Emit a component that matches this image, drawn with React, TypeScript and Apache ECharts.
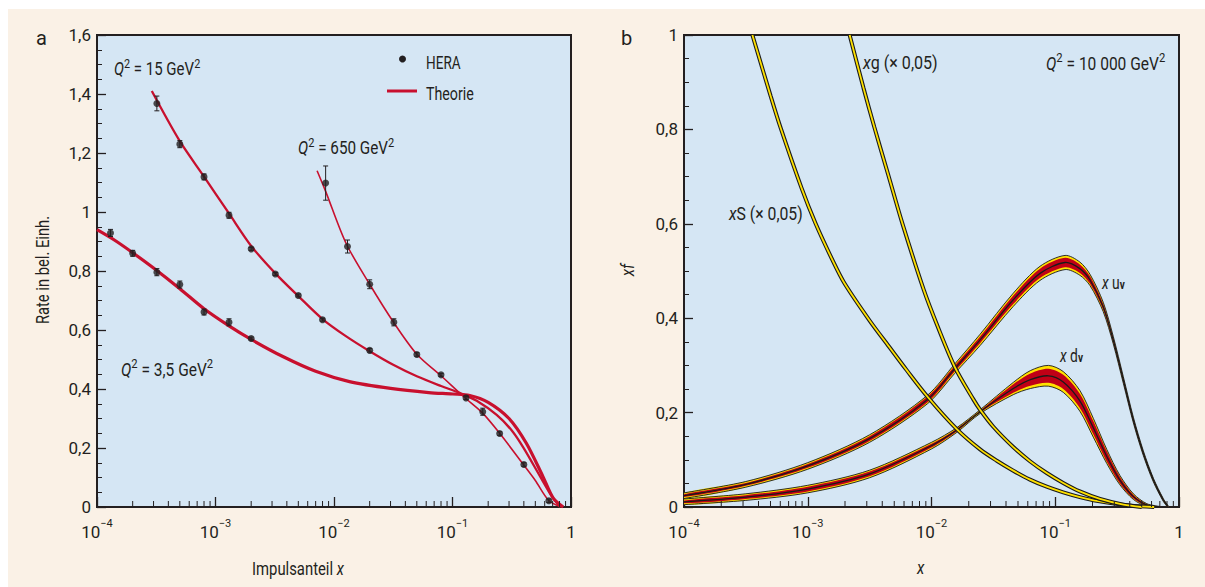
import React, { useEffect, useRef } from "react";
import * as echarts from "echarts";

// ---------- Panel a: HERA data ----------
const HERA35_X = [1.3e-4, 2e-4, 3.2e-4, 5e-4, 8e-4, 1.3e-3, 2e-3];
const HERA35_Y = [0.929, 0.86, 0.796, 0.754, 0.661, 0.626, 0.571];
const HERA35_E = [0.012, 0.01, 0.012, 0.012, 0.01, 0.012, 0.005];

const HERA15_X = [3.2e-4, 5e-4, 8e-4, 1.3e-3, 2e-3, 3.2e-3, 5e-3, 8e-3, 2e-2];
const HERA15_Y = [1.368, 1.23, 1.119, 0.989, 0.875, 0.79, 0.717, 0.635, 0.531];
const HERA15_E = [0.025, 0.012, 0.01, 0.01, 0.005, 0.005, 0.005, 0.005, 0.006];

const HERA650_X = [8.5e-3, 0.013, 0.02, 0.032, 0.05, 0.08, 0.13, 0.18, 0.25, 0.4, 0.65];
const HERA650_Y = [1.098, 0.883, 0.755, 0.626, 0.517, 0.448, 0.37, 0.323, 0.249, 0.144, 0.021];
const HERA650_E = [0.058, 0.022, 0.015, 0.012, 0.006, 0.005, 0.006, 0.012, 0.006, 0.006, 0.006];

// ---------- Panel a: theory curves ----------
const TH35_X = [1e-4, 1.4e-4, 2e-4, 3e-4, 5e-4, 8e-4, 1.3e-3, 2e-3, 3.7e-3, 7e-3, 0.0135, 0.03, 0.063, 0.1, 0.14, 0.2, 0.3, 0.42, 0.58, 0.71, 0.86];
const TH35_Y = [0.94, 0.905, 0.862, 0.81, 0.74, 0.672, 0.614, 0.568, 0.51, 0.46, 0.425, 0.402, 0.388, 0.383, 0.378, 0.355, 0.3, 0.216, 0.103, 0.029, 0];

const TH15_X = [2.9e-4, 5e-4, 8e-4, 1.3e-3, 2e-3, 3.2e-3, 5e-3, 8e-3, 0.0125, 0.02, 0.0316, 0.05, 0.08, 0.116, 0.16, 0.236, 0.32, 0.4, 0.55, 0.68, 0.81];
const TH15_Y = [1.41, 1.24, 1.12, 0.995, 0.885, 0.792, 0.715, 0.637, 0.58, 0.528, 0.482, 0.443, 0.41, 0.386, 0.36, 0.312, 0.257, 0.199, 0.103, 0.04, 0];

const TH650_X = [7.2e-3, 8.5e-3, 0.0126, 0.02, 0.0316, 0.05, 0.08, 0.126, 0.178, 0.25, 0.4, 0.5, 0.65, 0.83];
const TH650_Y = [1.14, 1.07, 0.895, 0.755, 0.628, 0.518, 0.445, 0.372, 0.32, 0.25, 0.142, 0.09, 0.022, 0];

// ---------- Panel b: parton distributions ----------
const XS_X = [3.57e-4, 5.01e-4, 6.04e-4, 8.9e-4, 1.155e-3, 1.585e-3, 1.98e-3, 3.16e-3, 4.53e-3, 6.3e-3, 9.4e-3, 0.016, 0.0247, 0.0337, 0.0458, 0.0625, 0.0853, 0.116, 0.158, 0.216, 0.4, 0.63];
const XS_Y = [1.0, 0.871, 0.803, 0.676, 0.601, 0.523, 0.474, 0.395, 0.34, 0.29, 0.232, 0.165, 0.122, 0.098, 0.077, 0.058, 0.043, 0.031, 0.021, 0.013, 0.003, 0];

const XG_X = [2.18e-3, 2.82e-3, 3.45e-3, 4.47e-3, 5.83e-3, 8.66e-3, 0.0112, 0.0154, 0.0218, 0.0247, 0.0316, 0.0458, 0.0625, 0.0853, 0.116, 0.158, 0.23, 0.355, 0.5];
const XG_Y = [1.0, 0.888, 0.805, 0.704, 0.6, 0.46, 0.383, 0.297, 0.228, 0.206, 0.17, 0.127, 0.097, 0.072, 0.051, 0.033, 0.017, 0.005, 0];

const UV_X = [1e-4, 3.16e-4, 1e-3, 3.16e-3, 9.3e-3, 0.0154, 0.0247, 0.0458, 0.0753, 0.12, 0.158, 0.191, 0.244, 0.294, 0.355, 0.428, 0.515, 0.621, 0.746, 0.82];
const UV_Y = [0.024, 0.048, 0.087, 0.145, 0.228, 0.293, 0.354, 0.439, 0.495, 0.518, 0.505, 0.481, 0.424, 0.354, 0.269, 0.184, 0.114, 0.057, 0.015, 0];
const UV_OUT = [0.006, 0.006, 0.007, 0.008, 0.009, 0.01, 0.012, 0.014, 0.015, 0.015, 0.014, 0.012, 0.01, 0.008, 0.007, 0.006, 0.005, 0.004, 0.003, 0.002];
const UV_IN = [0.003, 0.003, 0.004, 0.005, 0.006, 0.006, 0.007, 0.009, 0.01, 0.01, 0.009, 0.008, 0.006, 0.005, 0.004, 0.004, 0.003, 0.002, 0.002, 0.001];

const DV_X = [1e-4, 3.16e-4, 1e-3, 3.16e-3, 0.01, 0.016, 0.0247, 0.0458, 0.063, 0.088, 0.116, 0.158, 0.203, 0.261, 0.333, 0.428, 0.55, 0.708];
const DV_Y = [0.011, 0.021, 0.038, 0.07, 0.13, 0.163, 0.202, 0.251, 0.27, 0.278, 0.265, 0.225, 0.168, 0.107, 0.057, 0.022, 0.004, 0];
const DV_OUT = [0.006, 0.007, 0.008, 0.008, 0.007, 0.005, 0.004, 0.013, 0.019, 0.022, 0.022, 0.022, 0.02, 0.015, 0.01, 0.006, 0.003, 0.001];
const DV_IN = [0.003, 0.004, 0.005, 0.005, 0.004, 0.003, 0.002, 0.009, 0.013, 0.015, 0.015, 0.015, 0.014, 0.011, 0.007, 0.004, 0.002, 0.001];

// ---------- styling ----------
const FONT = 'Roboto,"Noto Sans","Liberation Sans",sans-serif';
const INK = "#231f20";
const RED = "#c8102e";
const BAND_RED = "#c00016";
const YELLOW = "#ffe100";
const CREAM = "#faf1e6";
const PLOT_BG = "#d5e6f4";
const FS = 18;

const MINOR_TICKS: number[] = [];
for (let e = -4; e < 0; e++) for (let m = 2; m <= 9; m++) MINOR_TICKS.push(m * Math.pow(10, e));

const zip = (xs: number[], ys: number[]) => xs.map((x, i) => [x, ys[i]]);

function errSeries(xs: number[], ys: number[], es: number[]) {
  return {
    type: "custom",
    xAxisIndex: 0,
    yAxisIndex: 0,
    z: 4,
    silent: true,
    data: xs.map((x, i) => [x, ys[i], es[i]]),
    encode: { x: 0, y: 1 },
    renderItem: (_p: any, api: any) => {
      const x = api.value(0), y = api.value(1), e = api.value(2);
      const lo = api.coord([x, y - e]);
      const hi = api.coord([x, y + e]);
      const w = 2.5;
      const st = { stroke: INK, lineWidth: 1 };
      return {
        type: "group",
        children: [
          { type: "line", shape: { x1: lo[0], y1: lo[1], x2: hi[0], y2: hi[1] }, style: st },
          { type: "line", shape: { x1: lo[0] - w, y1: lo[1], x2: lo[0] + w, y2: lo[1] }, style: st },
          { type: "line", shape: { x1: hi[0] - w, y1: hi[1], x2: hi[0] + w, y2: hi[1] }, style: st },
        ],
      };
    },
  };
}

function pointSeries(xs: number[], ys: number[]) {
  return {
    type: "scatter",
    xAxisIndex: 0,
    yAxisIndex: 0,
    z: 5,
    symbol: "circle",
    symbolSize: 7,
    itemStyle: { color: INK },
    data: zip(xs, ys),
  };
}

function theory(xs: number[], ys: number[], width: number) {
  return {
    type: "line",
    xAxisIndex: 0,
    yAxisIndex: 0,
    z: 3,
    smooth: 0.3,
    symbol: "none",
    lineStyle: { color: RED, width },
    data: zip(xs, ys),
  };
}

function minorTickSeries(axis: number) {
  return {
    type: "custom",
    xAxisIndex: axis,
    yAxisIndex: axis,
    z: 10,
    silent: true,
    clip: false,
    data: MINOR_TICKS.map((x) => [x, 0]),
    encode: { x: 0, y: 1 },
    renderItem: (_p: any, api: any) => {
      const p = api.coord([api.value(0), 0]);
      return {
        type: "line",
        shape: { x1: p[0], y1: p[1], x2: p[0], y2: p[1] - 6 },
        style: { stroke: INK, lineWidth: 1 },
      };
    },
  };
}

function thinBand(xs: number[], ys: number[]) {
  const data = zip(xs, ys);
  const base = { type: "line", xAxisIndex: 1, yAxisIndex: 1, smooth: 0.3, symbol: "none", data };
  return [
    { ...base, z: 3, lineStyle: { color: "#1a1a1a", width: 4 } },
    { ...base, z: 3, lineStyle: { color: YELLOW, width: 1.8 } },
  ];
}

function wideBand(xs: number[], ys: number[], outer: number[], inner: number[]) {
  return {
    type: "custom",
    xAxisIndex: 1,
    yAxisIndex: 1,
    z: 2,
    silent: true,
    clip: true,
    data: [[xs[0], ys[0]]],
    encode: { x: 0, y: 1 },
    renderItem: (_p: any, api: any) => {
      const pts = (f: (i: number) => number) => xs.map((x, i) => api.coord([x, f(i)]));
      const upO = pts((i) => ys[i] + outer[i]);
      const loO = pts((i) => ys[i] - outer[i]);
      const upI = pts((i) => ys[i] + inner[i]);
      const loI = pts((i) => ys[i] - inner[i]);
      const mid = pts((i) => ys[i]);
      const S = 0.3;
      const edge = { stroke: "#1a1a1a", lineWidth: 0.9, fill: null };
      return {
        type: "group",
        children: [
          { type: "polygon", shape: { points: upO.concat(loO.slice().reverse()), smooth: S }, style: { fill: YELLOW } },
          { type: "polygon", shape: { points: upI.concat(loI.slice().reverse()), smooth: S }, style: { fill: BAND_RED } },
          { type: "polyline", shape: { points: upO, smooth: S }, style: edge },
          { type: "polyline", shape: { points: loO, smooth: S }, style: edge },
          { type: "polyline", shape: { points: mid, smooth: S }, style: { stroke: "#1a1a1a", lineWidth: 1.3, fill: null } },
        ],
      };
    },
  };
}

const xLabelRich = {
  b: { fontFamily: FONT, fontSize: 17, color: INK, lineHeight: 22, verticalAlign: "bottom" },
  s: { fontFamily: FONT, fontSize: 11, color: INK, lineHeight: 12, verticalAlign: "top" },
};

function xAxis(grid: number) {
  return {
    gridIndex: grid,
    type: "log",
    logBase: 10,
    min: 1e-4,
    max: 1,
    axisLine: { show: true, lineStyle: { color: INK, width: 2 } },
    axisTick: { show: true, inside: true, length: 10, lineStyle: { color: INK, width: 1.3 } },
    splitLine: { show: false },
    minorTick: { show: false },
    axisLabel: {
      margin: 11,
      formatter: (v: number) => {
        const p = Math.round(Math.log10(v));
        return p === 0 ? "{b|1}" : "{b|10}{s|\u2212" + -p + "}";
      },
      rich: xLabelRich,
    },
  };
}

function yAxis(grid: number, max: number) {
  return {
    gridIndex: grid,
    type: "value",
    min: 0,
    max,
    interval: 0.2,
    axisLine: { show: true, lineStyle: { color: INK, width: 2 } },
    axisTick: { show: true, inside: true, length: 9, lineStyle: { color: INK, width: 1.3 } },
    minorTick: { show: true, splitNumber: 4, length: 5, lineStyle: { color: INK, width: 1 } },
    splitLine: { show: false },
    axisLabel: {
      margin: 6,
      fontFamily: FONT,
      fontSize: 17,
      color: INK,
      formatter: (v: number) => {
        const r = Math.round(v * 10) / 10;
        if (Math.abs(r - Math.round(r)) < 1e-9) return String(Math.round(r));
        return r.toFixed(1).replace(".", ",");
      },
    },
  };
}

const richT = {
  i: { fontFamily: FONT, fontSize: FS, fontStyle: "italic", color: INK, lineHeight: 21, verticalAlign: "bottom" },
  n: { fontFamily: FONT, fontSize: FS, color: INK, lineHeight: 21, verticalAlign: "bottom" },
  s: { fontFamily: FONT, fontSize: 13, color: INK, lineHeight: 13, verticalAlign: "top" },
  v: { fontFamily: FONT, fontSize: 13, fontWeight: "bold", color: INK, lineHeight: 13, verticalAlign: "bottom" },
};

function label(x: number, y: number, text: string, sq: number) {
  return {
    type: "text",
    x,
    y,
    scaleX: sq,
    z: 20,
    style: { text, rich: richT, fill: INK, font: FS + "px " + FONT, verticalAlign: "middle", align: "left" },
  };
}

export default function App() {
  const ref = useRef<HTMLDivElement>(null);
  useEffect(() => {
    document.body.style.margin = "0";
    const chart = echarts.init(ref.current!, null, { renderer: "svg" });
    const option: any = {
      animation: false,
      backgroundColor: "#ffffff",
      grid: [
        { left: 97, top: 35, width: 474, height: 472, show: true, backgroundColor: PLOT_BG, borderColor: INK, borderWidth: 2 },
        { left: 684, top: 35, width: 495, height: 472, show: true, backgroundColor: PLOT_BG, borderColor: INK, borderWidth: 2 },
      ],
      xAxis: [xAxis(0), xAxis(1)],
      yAxis: [yAxis(0, 1.6), yAxis(1, 1)],
      graphic: [
        { type: "rect", z: -10, silent: true, shape: { x: 8, y: 9, width: 1197, height: 578 }, style: { fill: CREAM } },
        { type: "text", x: 36, y: 38, z: 20, style: { text: "a", font: "20px " + FONT, fill: INK, verticalAlign: "middle" } },
        { type: "text", x: 621, y: 38, z: 20, style: { text: "b", font: "20px " + FONT, fill: INK, verticalAlign: "middle" } },
        // legend
        { type: "circle", z: 20, shape: { cx: 402.5, cy: 59, r: 3.5 }, style: { fill: INK } },
        { type: "line", z: 20, shape: { x1: 387, y1: 91, x2: 417, y2: 91 }, style: { stroke: RED, lineWidth: 3 } },
        label(426, 61, "{n|HERA}", 0.755),
        label(426, 92, "{n|Theorie}", 0.79),
        // panel a annotations
        label(114, 68, "{i|Q}{s|2}{n| = 15 GeV}{s|2}", 0.834),
        label(298, 147, "{i|Q}{s|2}{n| = 650 GeV}{s|2}", 0.848),
        label(121, 368, "{i|Q}{s|2}{n| = 3,5 GeV}{s|2}", 0.862),
        label(252, 567, "{n|Impulsanteil }{i|x}", 0.825),
        {
          type: "text",
          x: 43,
          y: 270,
          rotation: Math.PI / 2,
          scaleX: 0.82,
          z: 20,
          style: { text: "Rate in bel. Einh.", font: FS + "px " + FONT, fill: INK, align: "center", verticalAlign: "middle" },
        },
        // panel b annotations
        {
          type: "text",
          x: 628,
          y: 270,
          rotation: Math.PI / 2,
          scaleX: 0.85,
          z: 20,
          style: { text: "xf", font: "italic " + FS + "px " + FONT, fill: INK, align: "center", verticalAlign: "middle" },
        },
        label(917, 567, "{i|x}", 0.85),
        label(863, 61, "{i|x}{n|g (\u00d7 0,05)}", 0.894),
        label(1046, 62, "{i|Q}{s|2}{n| = 10 000 GeV}{s|2}", 0.863),
        label(729, 212, "{i|x}{n|S (\u00d7 0,05)}", 0.876),
        label(1102, 281, "{i|x}{n| u}{v|v}", 0.77),
        label(1060, 354, "{i|x}{n| d}{v|v}", 0.77),
      ],
      series: [
        // panel a
        theory(TH35_X, TH35_Y, 3.2),
        theory(TH15_X, TH15_Y, 2.3),
        theory(TH650_X, TH650_Y, 1.6),
        errSeries(HERA35_X, HERA35_Y, HERA35_E),
        errSeries(HERA15_X, HERA15_Y, HERA15_E),
        errSeries(HERA650_X, HERA650_Y, HERA650_E),
        pointSeries(HERA35_X, HERA35_Y),
        pointSeries(HERA15_X, HERA15_Y),
        pointSeries(HERA650_X, HERA650_Y),
        minorTickSeries(0),
        // panel b
        wideBand(UV_X, UV_Y, UV_OUT, UV_IN),
        wideBand(DV_X, DV_Y, DV_OUT, DV_IN),
        ...thinBand(XS_X, XS_Y),
        ...thinBand(XG_X, XG_Y),
        minorTickSeries(1),
      ],
    };
    chart.setOption(option);
    return () => chart.dispose();
  }, []);
  return <div ref={ref} style={{ width: 1205, height: 587 }} />;
}
